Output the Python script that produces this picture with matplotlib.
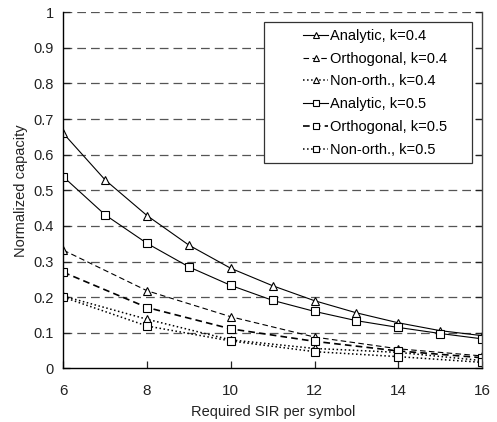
import matplotlib
matplotlib.use("Agg")
import matplotlib.pyplot as plt
from matplotlib.patches import Rectangle
import numpy as np

plt.rcParams["font.family"] = ["Liberation Sans", "DejaVu Sans"]

# analytic curves, one point per integer SIR
sir_a = [6, 7, 8, 9, 10, 11, 12, 13, 14, 15, 16]
analytic_04 = [0.660, 0.529, 0.429, 0.346, 0.281, 0.232, 0.190, 0.156, 0.128, 0.106, 0.092]
analytic_05 = [0.538, 0.431, 0.351, 0.285, 0.233, 0.191, 0.160, 0.134, 0.115, 0.098, 0.083]

# simulated curves, every 2 dB
sir_s = [6, 8, 10, 12, 14, 16]
orth_04 = [0.332, 0.218, 0.145, 0.088, 0.055, 0.035]
orth_05 = [0.270, 0.171, 0.111, 0.076, 0.049, 0.030]
nonorth_04 = [0.203, 0.138, 0.080, 0.056, 0.045, 0.022]
nonorth_05 = [0.200, 0.119, 0.077, 0.047, 0.033, 0.017]

fig = plt.figure(figsize=(4.97, 4.22), dpi=100)
ax = fig.add_axes([0.1274, 0.127, 0.8426, 0.844])

mk = dict(color="black", mfc="white", mec="black", ms=6.3, mew=0.8)
ax.plot(sir_a, analytic_04, "-", marker="^", lw=0.8, label="Analytic, k=0.4", **mk)
ax.plot(sir_s, orth_04, "--", marker="^", lw=0.8, dashes=(5, 3), label="Orthogonal, k=0.4", **mk)
ax.plot(sir_s, nonorth_04, ":", marker="^", lw=1.1, label="Non-orth., k=0.4", **mk)
ax.plot(sir_a, analytic_05, "-", marker="s", lw=0.8, label="Analytic, k=0.5", **mk)
ax.plot(sir_s, orth_05, "--", marker="s", lw=1.2, dashes=(4, 2.5), label="Orthogonal, k=0.5", **mk)
ax.plot(sir_s, nonorth_05, ":", marker="s", lw=1.1, label="Non-orth., k=0.5", **mk)

for yv in np.arange(0.1, 1.01, 0.1):
    ax.axhline(yv, color="#555555", lw=0.9, dashes=(7, 4), zorder=0)

ax.set_xlim(6, 16)
ax.set_ylim(0, 1)
ax.set_xticks([6, 8, 10, 12, 14, 16])
ax.set_yticks(np.round(np.arange(0, 1.01, 0.1), 1))
ax.set_yticklabels(["0", "0.1", "0.2", "0.3", "0.4", "0.5", "0.6", "0.7", "0.8", "0.9", "1"])
ax.tick_params(direction="in", length=5, width=0.9, labelsize=10.5, colors="#222222",
               right=True)
ax.tick_params(axis="x", pad=11, labelsize=11)
ax.tick_params(axis="y", pad=7)
ax.spines["top"].set_visible(False)
for s in ("left", "bottom", "right"):
    ax.spines[s].set_linewidth(1.0)
ax.spines["right"].set_color("#444444")

ax.set_xlabel("Required SIR per symbol", fontsize=10.5, color="#222222", labelpad=5)
ax.set_ylabel("Normalized capacity", fontsize=10.5, color="#222222", labelpad=4)

# legend frame drawn separately: the original box has wide empty margin on the left
ax.add_patch(Rectangle((0.479, 0.576), 0.497, 0.396, transform=ax.transAxes,
                       facecolor="white", edgecolor="#333333", lw=0.9, zorder=4))
leg = ax.legend(loc="upper left", bbox_to_anchor=(0.573, 0.953), fontsize=10.5,
                frameon=False, borderpad=0, borderaxespad=0,
                handlelength=1.7, handletextpad=0.15, markerscale=0.6,
                labelspacing=0.6)
leg.set_zorder(5)

fig.savefig("out.png", dpi=100)
